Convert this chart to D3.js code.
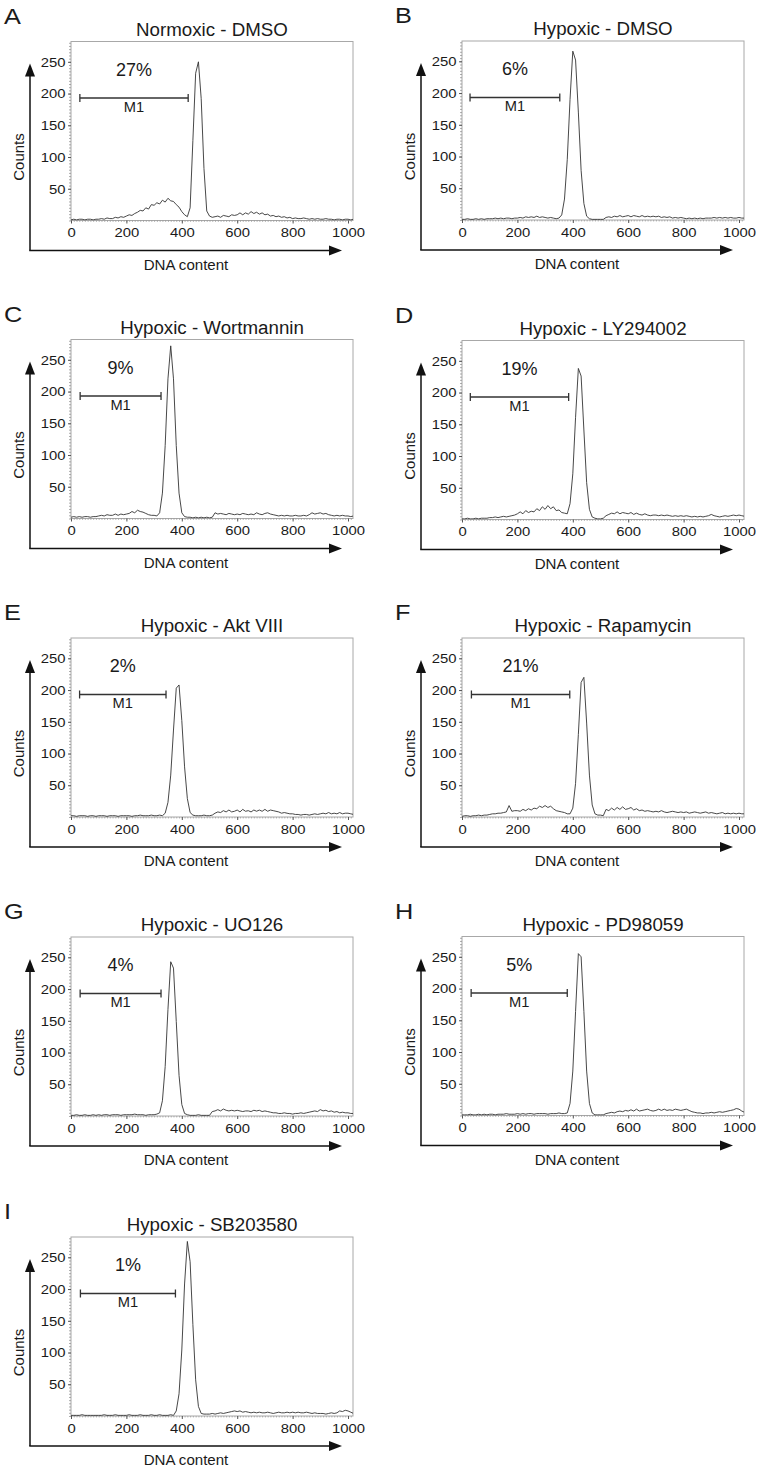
<!DOCTYPE html>
<html><head><meta charset="utf-8">
<script src="https://cdn.jsdelivr.net/npm/d3@7"></script>
<style>body{margin:0;background:#fff}text{font-family:"Liberation Sans",Arial,sans-serif;fill:#1a1a1a}</style>
</head><body><svg id="c" width="761" height="1470"></svg>
<script>
// ---------------- data ----------------
const panelLetters = ["A","B","C","D","E","F","G","H","I"];
const panelTitles = ["Normoxic - DMSO","Hypoxic - DMSO","Hypoxic - Wortmannin","Hypoxic - LY294002",
  "Hypoxic - Akt VIII","Hypoxic - Rapamycin","Hypoxic - UO126","Hypoxic - PD98059","Hypoxic - SB203580"];
const gatePercents = ["27%","6%","9%","19%","2%","21%","4%","5%","1%"];
const gateStart = [32,29,33,30,31,34,33,33,34];
const gateEnd   = [423,353,325,385,343,389,325,380,377];
const gateLabel = "M1";
const gateLevel = 193;
const xTicks = [0,200,400,600,800,1000];
const yTicks = [50,100,150,200,250];
const xLabel = "DNA content";
const yLabel = "Counts";
// channel bins (0..1020, every 10 channels)
const channels = d3.range(0, 1030, 10);

const countsA = [1,2,1,2,2,1,2,2,1,2, 2,3,2,4,3,3,5,4,6,5, 7,9,8,11,13,16,15,20,18,25,
  24,28,26,32,29,35,31,30,25,21, 14,9,6,20,126,232,250,192,82,15, 7,5,6,7,5,8,7,6,9,8,
  9,12,9,12,10,14,11,13,10,12, 9,10,7,8,6,7,5,6,4,5, 3,4,3,3,4,3,2,3,2,3,
  2,2,3,2,2,1,2,2,1,2, 2,1,2];
const countsB = [1,1,2,1,1,2,1,2,1,2, 2,2,3,2,3,2,3,3,2,3, 3,4,3,5,4,5,4,6,4,5,
  4,3,4,3,2,3,8,33,95,190, 266,252,170,78,26,6,2,1,1,1, 1,1,4,5,4,6,5,7,5,6,
  7,5,7,6,5,7,5,6,5,6, 5,6,4,5,4,5,3,4,3,4, 3,2,3,2,3,2,3,2,3,3,
  3,4,3,4,3,4,3,4,3,3, 4,3,3];
const countsC = [2,3,2,3,2,3,3,2,3,3, 4,5,4,6,5,5,7,5,7,6, 7,8,11,9,13,11,10,8,6,5,
  5,4,9,40,115,220,272,220,115,40, 9,3,2,2,1,2,1,2,1,2, 1,2,9,7,8,7,6,8,7,6,
  7,6,8,7,6,7,6,9,7,6, 8,9,7,6,5,4,5,4,5,4, 4,5,4,4,5,4,6,9,7,8,
  9,7,8,6,5,4,5,4,5,4, 4,3,4];
const countsD = [1,1,2,1,1,2,1,2,2,2, 3,3,4,3,4,5,4,5,6,7, 9,12,9,14,11,13,12,17,14,20,
  16,22,17,20,14,15,11,10,9,25, 72,161,238,226,141,58,16,4,2,1, 1,2,6,8,10,9,12,9,11,10,
  9,11,8,10,8,7,9,7,6,7, 7,6,7,6,7,6,5,6,5,6, 5,6,5,4,5,4,5,4,5,6,
  8,6,5,4,5,6,5,6,7,6, 7,6,5];
const countsE = [2,2,1,2,2,2,1,2,2,1, 2,2,2,1,2,2,2,1,2,2, 2,2,1,2,2,3,2,2,2,3,
  2,2,3,2,6,23,66,137,203,208, 152,79,29,7,3,2,2,2,3,2, 2,3,6,8,7,10,8,11,8,9,
  11,8,12,9,10,8,11,9,11,9, 12,9,11,10,9,8,6,7,6,5, 5,4,4,3,4,4,3,4,5,4,
  5,6,5,7,5,6,5,7,5,6, 6,5,4];
const countsF = [1,2,2,1,2,2,3,2,3,3, 4,5,5,6,6,7,8,18,9,10, 10,9,12,10,13,11,14,13,17,15,
  18,15,17,13,10,9,8,7,5,5, 14,53,130,212,220,148,66,19,5,3, 3,2,12,10,14,11,15,12,16,12,
  13,15,11,13,10,11,9,10,9,8, 9,8,10,8,7,8,9,8,7,8, 7,8,6,7,8,7,6,7,8,6,
  7,6,5,6,7,5,6,5,6,5, 6,5,5];
const countsG = [1,1,2,1,1,2,1,1,2,1, 2,1,2,2,1,2,2,2,1,2, 2,2,2,3,2,2,2,1,2,2,
  2,3,5,24,78,168,243,233,149,64, 18,4,2,1,1,1,2,1,1,1, 1,7,8,10,8,11,9,8,9,8,
  9,8,7,8,8,7,9,8,9,7, 8,7,6,5,5,4,4,5,4,4, 3,4,4,5,4,5,6,7,8,7,
  10,8,9,7,8,6,7,5,6,5, 5,4,4];
const countsH = [1,1,1,2,1,1,2,1,2,1, 2,2,1,2,2,2,3,2,2,2, 3,2,3,2,3,3,2,3,3,3,
  3,2,3,3,3,4,3,3,4,19, 70,164,255,250,164,70,19,4,1,1, 1,1,3,4,5,4,6,7,6,8,
  7,9,7,10,7,8,9,10,8,7, 8,10,8,10,8,9,8,10,9,8, 9,10,8,6,5,4,4,3,4,4,
  5,4,5,6,5,6,7,8,9,11, 10,7,5];
const countsI = [1,1,1,1,2,1,1,1,1,1, 1,1,2,1,1,1,2,1,1,1, 1,2,1,1,1,2,1,1,1,2,
  1,1,2,1,1,1,2,1,8,35, 104,208,275,243,144,57,15,4,3,3, 3,4,3,4,5,4,5,6,7,8,
  7,8,6,7,6,5,6,5,6,5, 5,6,5,4,5,6,5,5,6,5, 6,5,6,5,5,6,5,4,5,4,
  4,4,3,4,5,4,5,8,7,9, 8,6,4];
const seriesCounts = [countsA,countsB,countsC,countsD,countsE,countsF,countsG,countsH,countsI];

// ---------------- layout ----------------
const colLeft = [71, 462];
const boxBottoms = [220.5, 220, 518.5, 519.5, 817, 817, 1116, 1115.5, 1416];
const boxW = 282, boxH = 179;
const xMax = 1018, yMax = 282;

const svg = d3.select("#c");

function stretchedText(g, x, y, str, size, anchor, sx) {
  return g.append("text")
    .attr("transform", `translate(${x},${y}) scale(${sx},1)`)
    .attr("text-anchor", anchor)
    .attr("font-size", size)
    .text(str);
}

seriesCounts.forEach((counts, i) => {
  const left = colLeft[i % 2];
  const bottom = boxBottoms[i];
  const top = bottom - boxH;
  const g = svg.append("g");
  const x = d3.scaleLinear().domain([0, xMax]).range([left, left + boxW]);
  const y = d3.scaleLinear().domain([0, yMax]).range([bottom, top]);

  // panel letter and title
  stretchedText(g, i % 2 === 0 ? 4 : 395, top - 18, panelLetters[i], 22, "start", 1.15);
  stretchedText(g, left + boxW / 2, top - 6, panelTitles[i], 18, "middle", 1.04);

  // box
  g.append("rect").attr("x", left).attr("y", top).attr("width", boxW).attr("height", boxH)
    .attr("fill", "none").attr("stroke", "#a8a8a8").attr("stroke-width", 1);

  // minor ticks
  g.append("g").attr("transform", `translate(${left},0)`)
    .call(d3.axisLeft(y).tickValues(d3.range(0, yMax, 5)).tickSize(2).tickFormat(""))
    .call(a => a.select(".domain").remove())
    .call(a => a.selectAll("line").attr("stroke", "#8a8a8a").attr("stroke-width", 0.7));
  g.append("g").attr("transform", `translate(0,${bottom})`)
    .call(d3.axisBottom(x).tickValues(d3.range(0, xMax, 10)).tickSize(1.5).tickFormat(""))
    .call(a => a.select(".domain").remove())
    .call(a => a.selectAll("line").attr("stroke", "#8a8a8a").attr("stroke-width", 0.6));

  // major axes
  const ya = g.append("g").attr("transform", `translate(${left},0)`)
    .call(d3.axisLeft(y).tickValues(yTicks).tickFormat(d3.format("d")).tickSize(3).tickPadding(2));
  ya.select(".domain").remove();
  ya.selectAll("line").attr("stroke", "#555");
  ya.selectAll("text").attr("font-size", 13.5).attr("fill", "#1a1a1a")
    .attr("transform", "scale(1.1,1)").attr("font-family", '"Liberation Sans",Arial,sans-serif');
  const xa = g.append("g").attr("transform", `translate(0,${bottom})`)
    .call(d3.axisBottom(x).tickValues(xTicks).tickFormat(d3.format("d")).tickSize(3).tickPadding(3));
  xa.select(".domain").remove();
  xa.selectAll("line").attr("stroke", "#555");
  xa.selectAll("text").attr("font-size", 13.5).attr("fill", "#1a1a1a").attr("dy", "0.8em")
    .attr("transform", "scale(1.1,1)").attr("font-family", '"Liberation Sans",Arial,sans-serif');

  // histogram line
  const clipId = "clip" + i;
  g.append("clipPath").attr("id", clipId).append("rect")
    .attr("x", left).attr("y", top).attr("width", boxW).attr("height", boxH);
  const pts = channels.map((c, k) => [c, counts[k]]);
  g.append("path").datum(pts).attr("clip-path", `url(#${clipId})`)
    .attr("fill", "none").attr("stroke", "#333").attr("stroke-width", 0.9)
    .attr("stroke-linejoin", "round")
    .attr("d", d3.line().x(d => x(d[0])).y(d => y(d[1])));

  // M1 gate
  const gy = y(gateLevel), gx0 = x(gateStart[i]), gx1 = x(gateEnd[i]);
  g.append("line").attr("x1", gx0).attr("x2", gx1).attr("y1", gy).attr("y2", gy)
    .attr("stroke", "#333").attr("stroke-width", 1.3);
  [gx0, gx1].forEach(gx => g.append("line").attr("x1", gx).attr("x2", gx)
    .attr("y1", gy - 4).attr("y2", gy + 4).attr("stroke", "#333").attr("stroke-width", 1.3));
  const gmid = (gx0 + gx1) / 2;
  stretchedText(g, gmid, gy + 14, gateLabel, 14, "middle", 1.05);
  stretchedText(g, gmid, y(228), gatePercents[i], 18, "middle", 1.0);

  // outer arrows
  const ax = left - 41, ay = bottom + 30, vTip = top + 22, hTip = left + 271;
  g.append("line").attr("x1", ax).attr("x2", ax).attr("y1", ay).attr("y2", vTip + 10)
    .attr("stroke", "#111").attr("stroke-width", 1.5);
  g.append("path").attr("d", `M${ax},${vTip}L${ax - 5},${vTip + 13}L${ax + 5},${vTip + 13}Z`).attr("fill", "#111");
  g.append("line").attr("x1", ax - 0.75).attr("x2", hTip - 10).attr("y1", ay).attr("y2", ay)
    .attr("stroke", "#111").attr("stroke-width", 1.5);
  g.append("path").attr("d", `M${hTip},${ay}L${hTip - 13},${ay - 5}L${hTip - 13},${ay + 5}Z`).attr("fill", "#111");

  // axis titles
  g.append("text").attr("transform", `translate(${left - 47},${(vTip + ay) / 2}) rotate(-90)`)
    .attr("text-anchor", "middle").attr("font-size", 15).text(yLabel);
  stretchedText(g, (ax + hTip) / 2, bottom + 49, xLabel, 14.5, "middle", 1.04);
});
</script></body></html>
